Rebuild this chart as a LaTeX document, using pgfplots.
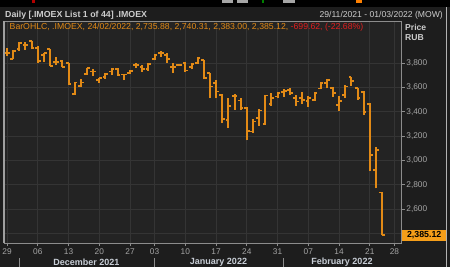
\documentclass[border=0pt]{standalone}
\usepackage{pgfplots}
\pgfplotsset{compat=1.18}
\usepackage{pgfplotstable}
\usepackage{fontspec}
\setmainfont{Liberation Sans}
\definecolor{bg}{RGB}{29,29,29}
\definecolor{plotbg}{RGB}{35,35,35}
\definecolor{gridc}{RGB}{52,52,52}
\definecolor{barc}{RGB}{226,138,22}
\definecolor{axc}{RGB}{140,140,140}
\definecolor{lblc}{RGB}{165,165,165}
\definecolor{hdr}{RGB}{205,205,205}
\definecolor{monc}{RGB}{200,206,214}
\definecolor{redc}{RGB}{225,30,30}
\definecolor{boxc}{RGB}{245,158,25}

\pgfplotstableread{
i O H L C
0 3885 3925 3860 3885
1 3835 3905 3830 3898
2 3912 3970 3901 3961
3 3945 3975 3907 3945
4 3980 3982 3912 3920
5 3920 3942 3803 3814
6 3866 3885 3811 3880
7 3915 3915 3775 3778
8 3810 3852 3785 3810
9 3816 3825 3765 3770
10 3797 3800 3620 3625
11 3543 3642 3538 3640
12 3610 3672 3602 3640
13 3710 3757 3702 3757
14 3730 3750 3697 3730
15 3661 3680 3634 3675
16 3688 3715 3669 3707
17 3730 3757 3702 3751
18 3750 3761 3694 3702
19 3705 3707 3660 3705
20 3716 3743 3707 3737
21 3784 3802 3762 3784
22 3770 3784 3729 3748
23 3752 3797 3737 3792
24 3830 3874 3825 3866
25 3880 3901 3852 3880
26 3866 3880 3803 3830
27 3765 3797 3716 3765
28 3784 3790 3775 3782
29 3803 3811 3729 3739
30 3770 3802 3748 3792
31 3797 3847 3792 3838
32 3825 3825 3666 3675
33 3716 3721 3509 3606
34 3634 3661 3509 3565
35 3538 3546 3306 3338
36 3330 3510 3264 3447
37 3530 3546 3415 3530
38 3491 3510 3415 3428
39 3428 3437 3163 3242
40 3237 3338 3224 3319
41 3347 3420 3283 3409
42 3300 3538 3292 3532
43 3461 3551 3447 3515
44 3524 3565 3510 3551
45 3560 3587 3524 3570
46 3579 3592 3538 3551
47 3510 3540 3445 3483
48 3510 3565 3465 3497
49 3490 3530 3440 3515
50 3497 3565 3490 3556
51 3590 3641 3584 3638
52 3634 3667 3592 3661
53 3597 3605 3524 3551
54 3456 3532 3406 3488
55 3538 3620 3516 3606
56 3685 3688 3614 3650
57 3592 3597 3497 3510
58 3560 3570 3374 3400
59 3461 3470 2914 3046
60 2923 3110 2770 3085
61 2735.88 2740.31 2383 2385.12
}\ohlc

\begin{document}
\begin{tikzpicture}[x=1bp,y=1bp,font=\fontsize{8bp}{9.6bp}\selectfont]
\useasboundingbox (0,0) rectangle (450,267);
\fill[bg] (0,0) rectangle (450,267);
\fill[black] (0,260) rectangle (450,267);
% toolbar remnants
\fill[gray!70] (222,264) rectangle (233,267);
\fill[gray!70] (237,264) rectangle (248,267);
\fill[gray!70] (283,264) rectangle (295,267);
\fill[red!70!black] (32,264) rectangle (35,267);
\fill[green!50!black] (262,264) rectangle (264,267);
\fill[orange] (356,264) rectangle (362,267);
\draw[gray!60, line width=1bp] (446.5,0) -- (446.5,260);

\begin{axis}[
  at={(4bp,24bp)}, anchor=south west, scale only axis,
  width=397.7bp, height=222bp,
  xmin=-0.49, xmax=64.18, ymin=2320.5, ymax=4145,
  clip=false,
  axis background/.style={fill=plotbg},
  axis line style={axc, line width=0.8bp},
  tick style={axc, line width=0.8bp}, major tick length=3bp, tick align=outside,
  xtick pos=bottom, ytick pos=right, yticklabel pos=right,
  xtick={0,5,10,15,20,24,29,34,39,44,49,54,59,63},
  xticklabels={29,06,13,20,27,03,10,17,24,31,07,14,21,28},
  ytick={2400,2600,...,3800},
  yticklabels={{},{2,600},{2,800},{3,000},{3,200},{3,400},{3,600},{3,800}},
  grid=major, grid style={gridc, line width=0.8bp},
  xticklabel style={lblc, font=\fontsize{8.3bp}{9.6bp}\selectfont, inner sep=0pt, anchor=north, yshift=-2.5bp},
  yticklabel style={lblc, font=\fontsize{8.3bp}{9.6bp}\selectfont, inner sep=0pt, anchor=west, xshift=1.5bp},
]
% high-low lines
\addplot[barc, line width=2bp, line cap=butt, mark=none,
  quiver={u=0, v=\thisrow{H}-\thisrow{L}, scale arrows=1}]
  table[x=i, y=L] {\ohlc};
% open ticks (left)
\addplot[barc, line width=1.8bp, line cap=butt, mark=none,
  quiver={u=-0.45, v=0, scale arrows=1}]
  table[x=i, y=O] {\ohlc};
% close ticks (right)
\addplot[barc, line width=1.8bp, line cap=butt, mark=none,
  quiver={u=0.45, v=0, scale arrows=1}]
  table[x=i, y=C] {\ohlc};
% left frame highlight
\draw[gray!75!white, line width=1.3bp] (rel axis cs:0,0) -- (rel axis cs:0,1);
% last value box
\node[fill=boxc, text=black, anchor=west, inner xsep=1.2bp, inner ysep=1.8bp, minimum width=44.5bp,
  font=\fontsize{8.8bp}{10bp}\selectfont\bfseries] at (axis cs:64.18,2385.12) {2,385.12};
\end{axis}

% header
\node[anchor=west, text=hdr, inner sep=0pt, font=\fontsize{8.8bp}{10bp}\selectfont\bfseries] at (5,252) {Daily [.IMOEX List 1 of 44] .IMOEX};
\node[anchor=east, text=hdr, inner sep=0pt, font=\fontsize{8.6bp}{10bp}\selectfont] at (443,252) {29/11/2021 - 01/03/2022 (MOW)};
% legend line
\node[anchor=west, text=barc, inner sep=0pt, font=\fontsize{8.7bp}{10bp}\selectfont] at (9.5,239.5) {BarOHLC, .IMOEX, 24/02/2022, 2,735.88, 2,740.31, 2,383.00, 2,385.12, \textcolor{redc}{-699.62, (-22.68\%)}};
% price / rub
\node[anchor=west, text=hdr, inner sep=0pt, font=\fontsize{8.6bp}{10bp}\selectfont\bfseries] at (405,240) {Price};
\node[anchor=west, text=hdr, inner sep=0pt, font=\fontsize{8.6bp}{10bp}\selectfont\bfseries] at (405,229.5) {RUB};
% month separators and labels
\draw[axc, line width=0.8bp] (19,0) -- (19,9.5);
\draw[axc, line width=0.8bp] (154,0) -- (154,9.5);
\draw[axc, line width=0.8bp] (283,0) -- (283,9.5);
\node[text=monc, inner sep=0pt, font=\fontsize{9bp}{10bp}\selectfont\bfseries] at (86.5,5) {December 2021};
\node[text=monc, inner sep=0pt, font=\fontsize{9bp}{10bp}\selectfont\bfseries] at (218.5,5) {January 2022};
\node[text=monc, inner sep=0pt, font=\fontsize{9bp}{10bp}\selectfont\bfseries] at (342,5) {February 2022};
\end{tikzpicture}
\end{document}
